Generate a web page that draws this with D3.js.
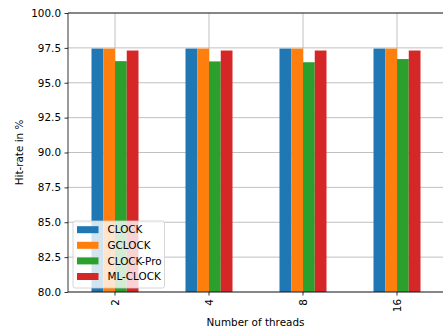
<!DOCTYPE html>
<html>
<head>
<meta charset="utf-8">
<script src="https://cdn.jsdelivr.net/npm/d3@7"></script>
<style>
    html, body { margin: 0; padding: 0; background: white; overflow: hidden; }
    text { font-family: "DejaVu Sans", sans-serif; fill: #000; }
</style>
</head>
<body>
<svg id="chart" width="443" height="331"></svg>
<script>
    // data
    var threads = ["2", "4", "8", "16"];
    var seriesNames = ["CLOCK", "GCLOCK", "CLOCK-Pro", "ML-CLOCK"];
    var clock = [97.45, 97.45, 97.45, 97.45];
    var gclock = [97.45, 97.45, 97.45, 97.45];
    var clockPro = [96.55, 96.53, 96.47, 96.7];
    var mlClock = [97.31, 97.31, 97.31, 97.31];
    var yTicks = [80.0, 82.5, 85.0, 87.5, 90.0, 92.5, 95.0, 97.5, 100.0];
    var colors = ["#1f77b4", "#ff7f0e", "#2ca02c", "#d62728"];

    var series = [clock, gclock, clockPro, mlClock];
    var fs = 10.4;

    var margin = {left: 68, top: 13, right: 0, bottom: 39};
    var width = 444 - margin.left, height = 331 - margin.top - margin.bottom;

    var svg = d3.select("#chart");
    var g = svg.append("g").attr("transform", "translate(" + margin.left + "," + margin.top + ")");

    // pandas-style positions: category index i, xlim (-0.5, n-0.5)
    var x = d3.scaleLinear().domain([-0.5, threads.length - 0.5]).range([0, width]);
    var y = d3.scaleLinear().domain([80, 100]).range([height, 0]);
    var barW = 0.5 / series.length;

    // grid
    g.append("g").selectAll("line.gy").data(yTicks).enter().append("line")
        .attr("x1", 0).attr("x2", width)
        .attr("y1", function (d) { return y(d); }).attr("y2", function (d) { return y(d); })
        .attr("stroke", "#b0b0b0").attr("stroke-width", 0.8);
    g.append("g").selectAll("line.gx").data(threads).enter().append("line")
        .attr("x1", function (d, i) { return x(i); }).attr("x2", function (d, i) { return x(i); })
        .attr("y1", 0).attr("y2", height)
        .attr("stroke", "#b0b0b0").attr("stroke-width", 0.8);

    // bars
    series.forEach(function (vals, s) {
        g.append("g").selectAll("rect").data(vals).enter().append("rect")
            .attr("x", function (d, i) { return x(i - 0.25 + s * barW); })
            .attr("width", x(barW) - x(0))
            .attr("y", function (d) { return y(d); })
            .attr("height", function (d) { return y(80) - y(d); })
            .attr("fill", colors[s]);
    });

    // spines
    g.append("line").attr("x1", 0).attr("x2", 0).attr("y1", 0).attr("y2", height)
        .attr("stroke", "#000").attr("stroke-width", 0.8);
    g.append("line").attr("x1", 0).attr("x2", width).attr("y1", height).attr("y2", height)
        .attr("stroke", "#000").attr("stroke-width", 0.8);
    g.append("line").attr("x1", 0).attr("x2", width).attr("y1", 0).attr("y2", 0)
        .attr("stroke", "#000").attr("stroke-width", 0.8);

    // y axis
    var yAxis = g.append("g").call(d3.axisLeft(y).tickValues(yTicks).tickSize(3.5).tickPadding(3.5)
        .tickFormat(d3.format(".1f")));
    yAxis.select(".domain").remove();
    yAxis.selectAll("line").attr("stroke", "#000").attr("stroke-width", 0.8);
    yAxis.selectAll("text").attr("font-size", fs).attr("font-family", "DejaVu Sans").attr("fill", "#000");

    // x ticks, rotated 90
    var xt = g.append("g").attr("transform", "translate(0," + height + ")");
    threads.forEach(function (t, i) {
        xt.append("line").attr("x1", x(i)).attr("x2", x(i)).attr("y1", 0).attr("y2", 3.5)
            .attr("stroke", "#000").attr("stroke-width", 0.8);
        xt.append("text").attr("transform", "translate(" + (x(i) + 3.7) + ",7) rotate(-90)")
            .attr("text-anchor", "end").attr("font-size", fs).text(t);
    });

    // axis labels
    svg.append("text").attr("x", margin.left + x(1.5) - 0.5).attr("y", 326)
        .attr("text-anchor", "middle").attr("font-size", fs).text("Number of threads");
    svg.append("text").attr("transform", "translate(23," + (margin.top + height / 2) + ") rotate(-90)")
        .attr("text-anchor", "middle").attr("font-size", fs).text("Hit-rate in %");

    // legend
    var lg = g.append("g").attr("transform", "translate(5,208)");
    lg.append("rect").attr("x", 0).attr("y", 0).attr("width", 91.5).attr("height", 67)
        .attr("rx", 2).attr("fill", "white").attr("fill-opacity", 0.8)
        .attr("stroke", "#cccccc").attr("stroke-width", 0.8);
    seriesNames.forEach(function (name, i) {
        var row = lg.append("g").attr("transform", "translate(0," + (8.7 + i * 15.6) + ")");
        row.append("rect").attr("x", 4).attr("y", -3.5).attr("width", 21.5).attr("height", 7).attr("fill", colors[i]);
        row.append("text").attr("x", 34.5).attr("y", 3.7).attr("font-size", fs).text(name);
    });
</script>
</body>
</html>
